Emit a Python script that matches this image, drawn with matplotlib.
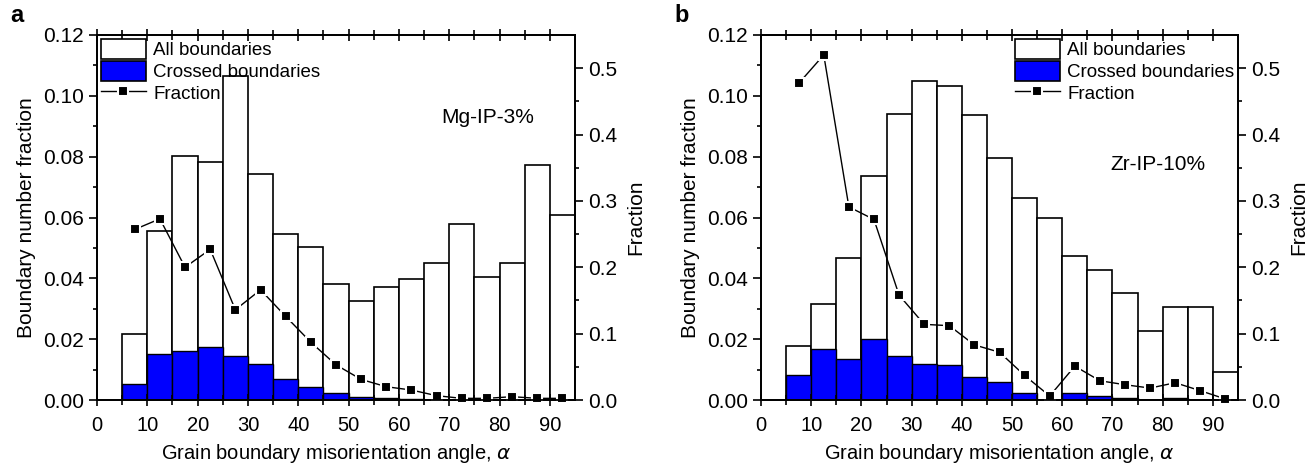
import numpy as np
import matplotlib
matplotlib.use("Agg")
import matplotlib.pyplot as plt
from matplotlib.patches import Patch
from matplotlib.lines import Line2D

plt.rcParams['font.family'] = ['Liberation Sans', 'DejaVu Sans']

# bin left edges (degrees), 5-degree bins
bin_edges = [5, 10, 15, 20, 25, 30, 35, 40, 45, 50, 55, 60, 65, 70, 75, 80, 85, 90]

# panel a: Mg-IP-3%
all_a = [0.0217, 0.0557, 0.0803, 0.0782, 0.1064, 0.0742, 0.0545, 0.0504, 0.0381,
         0.0326, 0.0373, 0.0397, 0.0449, 0.0578, 0.0403, 0.0449, 0.0774, 0.0608]
crossed_a = [0.0053, 0.0150, 0.0161, 0.0175, 0.0145, 0.0119, 0.0068, 0.0042, 0.0022,
             0.0010, 0.0005, 0.0003, 0.0001, 0.0, 0.0, 0.0, 0.0, 0.0]
frac_a = [0.257, 0.273, 0.200, 0.227, 0.136, 0.166, 0.126, 0.087, 0.053,
          0.031, 0.020, 0.015, 0.0065, 0.0025, 0.0025, 0.005, 0.0025, 0.0025]

# panel b: Zr-IP-10%
all_b = [0.0179, 0.0315, 0.0468, 0.0736, 0.0941, 0.1050, 0.1033, 0.0937, 0.0797,
         0.0664, 0.0597, 0.0473, 0.0427, 0.0351, 0.0227, 0.0305, 0.0305, 0.0093]
crossed_b = [0.0082, 0.0167, 0.0135, 0.0202, 0.0145, 0.0119, 0.0114, 0.0077, 0.0058,
             0.0022, 0.0, 0.0022, 0.0013, 0.0005, 0.0, 0.0005, 0.0, 0.0]
frac_b = [0.477, 0.520, 0.291, 0.272, 0.158, 0.114, 0.112, 0.083, 0.072,
          0.037, 0.006, 0.051, 0.029, 0.023, 0.018, 0.026, 0.014, 0.0015]

panels = [
    ("a", "Mg-IP-3%", all_a, crossed_a, frac_a, (68.5, 0.093), "upper left"),
    ("b", "Zr-IP-10%", all_b, crossed_b, frac_b, (69.5, 0.0773), "upper right"),
]

fig = plt.figure(figsize=(13.16, 4.68), dpi=100)
W, H = 1316.0, 468.0
boxes = [(97, 35, 575, 400), (761, 35, 1238, 400)]

fs = 15
for (letter, name, all_v, crossed_v, frac_v, txt_pos, leg_loc), (x0, y0, x1, y1) in zip(panels, boxes):
    ax = fig.add_axes([x0 / W, 1 - y1 / H, (x1 - x0) / W, (y1 - y0) / H])
    ax.bar(bin_edges, all_v, width=5, align='edge', color='white', edgecolor='black', lw=1.2)
    ax.bar(bin_edges, crossed_v, width=5, align='edge', color='#0000ff', edgecolor='black', lw=1.0)
    ax.set_xlim(0, 95)
    ax.set_ylim(0, 0.12)
    ax.set_xticks(np.arange(0, 91, 10))
    ax.set_xticks(np.arange(5, 95, 10), minor=True)
    ax.set_yticks(np.arange(0, 0.121, 0.02))
    ax.set_yticks(np.arange(0.01, 0.12, 0.02), minor=True)
    ax.set_yticklabels(["%.2f" % v for v in np.arange(0, 0.121, 0.02)])
    ax.tick_params(axis='x', which='both', direction='inout', top=True, labelsize=fs - 0.5, width=1.2, pad=7)
    ax.tick_params(axis='x', which='major', length=9)
    ax.tick_params(axis='x', which='minor', length=7)
    ax.tick_params(axis='y', which='major', direction='out', length=6, labelsize=fs, width=1.2)
    ax.tick_params(axis='y', which='minor', direction='out', length=3, width=1.2)
    for sp in ax.spines.values():
        sp.set_linewidth(1.3)
    ax.set_xlabel(u"Grain boundary misorientation angle, $\\alpha$", fontsize=fs - 0.5, labelpad=5)
    ax.set_ylabel("Boundary number fraction", fontsize=fs, labelpad=5)
    ax.text(txt_pos[0], txt_pos[1], name, fontsize=fs, va='center', ha='left')

    ax2 = ax.twinx()
    centers = [b + 2.5 for b in bin_edges]
    ax2.plot(centers, frac_v, '-', color='black', lw=1.0, marker='s', ms=7.5,
             mfc='black', mec='white', mew=1.5, clip_on=False)
    ax2.set_ylim(0, 0.55)
    ax2.set_yticks(np.arange(0, 0.51, 0.1))
    ax2.set_yticks(np.arange(0.05, 0.55, 0.1), minor=True)
    ax2.set_yticklabels(["%.1f" % v for v in np.arange(0, 0.51, 0.1)])
    ax2.tick_params(axis='y', which='major', direction='out', length=6, labelsize=fs, width=1.2)
    ax2.tick_params(axis='y', which='minor', direction='out', length=3, width=1.2)
    ax2.set_ylabel("Fraction", fontsize=fs, labelpad=6)
    for sp in ax2.spines.values():
        sp.set_linewidth(1.3)

    handles = [Patch(facecolor='white', edgecolor='black', lw=1.2),
               Patch(facecolor='#0000ff', edgecolor='black', lw=1.2),
               Line2D([], [], color='black', lw=1.0, marker='s', ms=7.5, mfc='black', mec='white', mew=1.5)]
    ax2.legend(handles, ["All boundaries", "Crossed boundaries", "Fraction"], loc=leg_loc,
               frameon=False, fontsize=13.5, handlelength=2.4, handleheight=1.25,
               handletextpad=0.4, labelspacing=0.1, borderaxespad=0.1, borderpad=0.1)

    fig.text((x0 - 87) / W, 1 - 15 / H, letter, fontsize=17, fontweight='bold', va='center')

fig.savefig("out.png", dpi=100)
